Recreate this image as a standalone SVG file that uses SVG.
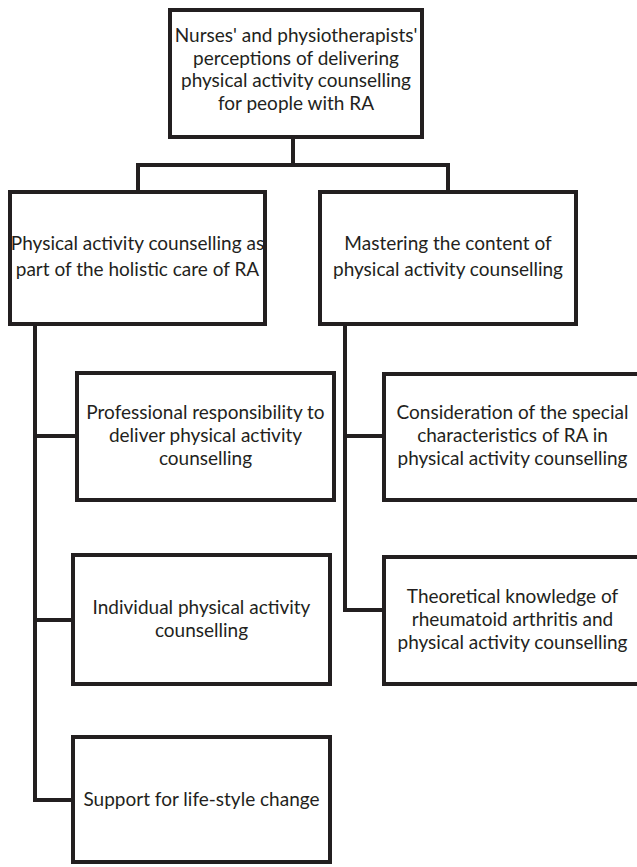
<svg xmlns="http://www.w3.org/2000/svg" width="637" height="867" viewBox="0 0 637 867">
<style>
.box{fill:#fff;stroke:#231f20;stroke-width:4}
.ln{fill:none;stroke:#231f20;stroke-width:4;stroke-linecap:square;stroke-linejoin:miter}
text{font-family:Lato,"Liberation Sans",sans-serif;font-size:19px;fill:#231f20;text-anchor:middle}
</style>
<rect width="637" height="867" fill="#fff"/>
<g id="connectors">
<path class="ln" d="M293,137 V165 M138,165 H448 M138,165 V192 M448,165 V192"/>
<path class="ln" d="M35,324 V800 H73 M35,436 H77 M35,620 H73"/>
<path class="ln" d="M345,324 V610 H384 M345,436 H384"/>
</g>
<g id="root">
<rect class="box" x="170" y="10" width="252" height="127"/>
<text x="296" y="42">Nurses' and physiotherapists'</text>
<text x="296" y="64.5">perceptions of delivering</text>
<text x="296" y="87">physical activity counselling</text>
<text x="296" y="109.5">for people with RA</text>
</g>
<g id="theme1">
<rect class="box" x="10" y="192" width="255" height="132"/>
<text x="137.5" y="250">Physical activity counselling as</text>
<text x="137.5" y="276">part of the holistic care of RA</text>
</g>
<g id="theme2">
<rect class="box" x="320" y="192" width="256" height="132"/>
<text x="448" y="250">Mastering the content of</text>
<text x="448" y="276">physical activity counselling</text>
</g>
<g id="sub1">
<rect class="box" x="77" y="373" width="257" height="127"/>
<text x="205.5" y="419">Professional responsibility to</text>
<text x="205.5" y="442">deliver physical activity</text>
<text x="205.5" y="465">counselling</text>
</g>
<g id="sub2">
<rect class="box" x="73" y="555" width="257" height="129"/>
<text x="201.5" y="614">Individual physical activity</text>
<text x="201.5" y="637">counselling</text>
</g>
<g id="sub3">
<rect class="box" x="73" y="737" width="257" height="125"/>
<text x="201.5" y="806">Support for life-style change</text>
</g>
<g id="sub4">
<rect class="box" x="384" y="374" width="257" height="126"/>
<text x="512.5" y="419">Consideration of the special</text>
<text x="512.5" y="442">characteristics of RA in</text>
<text x="512.5" y="465">physical activity counselling</text>
</g>
<g id="sub5">
<rect class="box" x="384" y="557" width="257" height="127"/>
<text x="512.5" y="603">Theoretical knowledge of</text>
<text x="512.5" y="626">rheumatoid arthritis and</text>
<text x="512.5" y="649">physical activity counselling</text>
</g>
</svg>
